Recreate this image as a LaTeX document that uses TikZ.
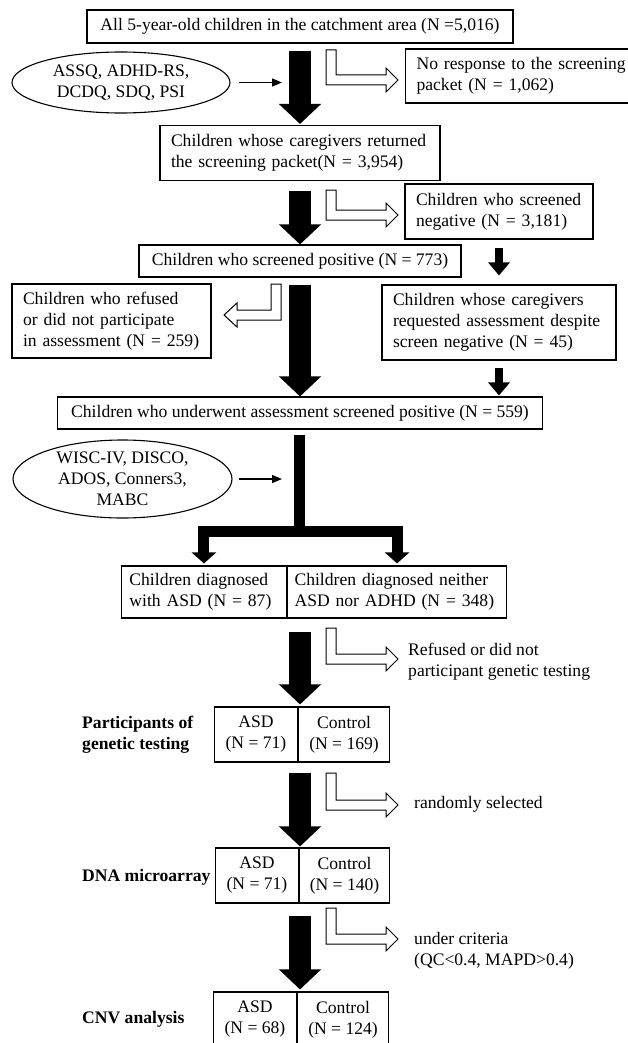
\documentclass[tikz,border=0pt]{standalone}
\usepackage{fontspec}
\setmainfont{Liberation Serif}
\usetikzlibrary{arrows.meta,shapes.geometric}

\begin{document}
\begin{tikzpicture}[x=1pt, y=-1pt,
    boxStyle/.style={draw, line width=1.1pt, inner xsep=11pt, inner ysep=0pt, align=left, font=\fontsize{17.6}{21}\selectfont},
    cellStyle/.style={draw, line width=1.1pt, inner sep=0pt, align=center, minimum height=55pt, font=\fontsize{17.6}{21}\selectfont},
    ellStyle/.style={ellipse, draw, line width=1.1pt, inner sep=0pt, align=center, font=\fontsize{17.6}{21}\selectfont},
    labelStyle/.style={anchor=west, inner sep=0pt, align=left, font=\fontsize{17.6}{21}\selectfont\bfseries},
    noteStyle/.style={anchor=west, inner sep=0pt, align=left, font=\fontsize{17.6}{21}\selectfont},
    bigArrow/.style={line width=22pt, -{Triangle[width=41pt, length=20pt]}},
    smallArrow/.style={line width=8pt, -{Triangle[width=21pt, length=13pt]}},
    forkArrow/.style={line width=11pt, -{Triangle[width=24pt, length=11pt]}},
    thinArrow/.style={line width=1.3pt, -{Triangle[width=8pt, length=10pt]}},
    hollow/.style={draw, line width=1pt, fill=white, line join=miter}]
    \useasboundingbox (0,0) rectangle (627,1043);
    \coordinate (spine) at (300,0);

    % screening
    \node[boxStyle, align=center, minimum width=426pt, minimum height=33pt] (all) at (300,26.5) {All 5-year-old children in the catchment area (N =5,016)};
    \node[ellStyle, minimum width=218pt, minimum height=61pt] (ell1) at (121,82.5) {ASSQ, ADHD-RS,\\DCDQ, SDQ, PSI};
    \node[boxStyle, text width=223pt, minimum height=54pt, anchor=west] (noresp) at (405,76) {No response to the screening\\packet (N = 1,062)};
    \node[boxStyle, text width=258pt, minimum height=55pt, anchor=north] (ret) at (300,125) {Children whose caregivers returned\\the screening packet(N = 3,954)};
    \node[boxStyle, text width=166pt, minimum height=55pt] (neg) at (499,211.5) {Children who screened\\negative (N = 3,181)};
    \node[boxStyle, align=center, minimum width=322pt, minimum height=32pt] (pos) at (300,261) {Children who screened positive (N = 773)};
    \node[boxStyle, text width=177pt, minimum height=74pt] (refused) at (111.5,321) {Children who refused\\or did not participate\\in assessment (N = 259)};
    \node[boxStyle, text width=212pt, minimum height=75pt] (req) at (499,322.5) {Children whose caregivers\\requested assessment despite\\screen negative (N = 45)};
    \node[boxStyle, align=center, minimum width=485pt, minimum height=32pt] (assess) at (300,413) {Children who underwent assessment screened positive (N = 559)};

    % diagnosis
    \node[ellStyle, minimum width=219pt, minimum height=78pt] (ell2) at (122.5,479) {WISC-IV, DISCO,\\ADOS, Conners3,\\MABC};
    \node[boxStyle, text width=149pt, inner xsep=8pt, minimum height=52pt, anchor=east] (asd) at (287,592) {Children diagnosed\\with ASD (N = 87)};
    \node[boxStyle, text width=205pt, inner xsep=7pt, minimum height=52pt, anchor=west] (nei) at (287,592) {Children diagnosed neither\\ASD nor ADHD (N = 348)};

    % genetic testing
    \node[labelStyle] (partLabel) at (82,734.5) {Participants of\\genetic testing};
    \node[cellStyle, minimum width=83pt, anchor=east] (partA) at (298,734.5) {ASD\\(N = 71)};
    \node[cellStyle, minimum width=91pt, anchor=west] (partC) at (298,734.5) {Control\\(N = 169)};
    \node[labelStyle] (dnaLabel) at (82,877) {DNA microarray};
    \node[cellStyle, minimum width=83pt, anchor=east] (dnaA) at (299,875.5) {ASD\\(N = 71)};
    \node[cellStyle, minimum width=90pt, anchor=west] (dnaC) at (299,875.5) {Control\\(N = 140)};
    \node[labelStyle] (cnvLabel) at (82,1019) {CNV analysis};
    \node[cellStyle, minimum width=83pt, anchor=east] (cnvA) at (297,1019.5) {ASD\\(N = 68)};
    \node[cellStyle, minimum width=91pt, anchor=west] (cnvC) at (297,1019.5) {Control\\(N = 124)};

    \node[noteStyle] (refNote) at (408,661.5) {Refused or did not\\participant genetic testing};
    \node[noteStyle] (randNote) at (414,804) {randomly selected};
    \node[noteStyle] (critNote) at (414,951) {under criteria\\(QC<0.4, MAPD>0.4)};

    % main black arrows
    \draw[bigArrow, shorten <=7pt, shorten >=1pt] (all.south) -- (ret.north);
    \draw[bigArrow, shorten <=10pt] (ret.south) -- (pos.north);
    \draw[bigArrow, shorten <=7pt] (pos.south) -- (assess.north);
    \draw[bigArrow, shorten <=13pt, shorten >=2pt] (spine |- asd.south) -- (spine |- partA.north);
    \draw[bigArrow, shorten <=10pt, shorten >=1pt] (spine |- partA.south) -- (spine |- dnaA.north);
    \draw[bigArrow, shorten <=12pt, shorten >=2pt] (spine |- dnaA.south) -- (spine |- cnvA.north);

    % right column
    \draw[smallArrow, shorten <=8pt, shorten >=9pt] (neg.south) -- (req.north);
    \draw[smallArrow, shorten <=7pt, shorten >=1pt] (req.south) -- (req.south |- assess.north);

    % instruments
    \coordinate (in1) at (282,82.5);
    \coordinate (in2) at (282,479);
    \draw[thinArrow, shorten <=8pt] (ell1.east) -- (in1);
    \draw[thinArrow, shorten <=6pt] (ell2.east) -- (in2);

    % fork to diagnoses
    \coordinate (fork) at (299,531);
    \draw[line width=11pt, shorten <=5pt] (assess.south -| fork) -- (fork);
    \draw[forkArrow, shorten >=2pt] (fork) -| (asd.north);
    \draw[forkArrow, shorten >=2pt] (fork) -| (nei.north);

    % hollow bent arrows
    \draw[hollow] (326,50) -- ++(10,0) -- ++(0,25) -- ++(50,0) -- ++(0,-7) -- ++(12,12) -- ++(-12,12) -- ++(0,-7) -- ++(-60,0) -- cycle;
    \draw[hollow] (326,190) -- ++(10,0) -- ++(0,20) -- ++(50,0) -- ++(0,-7) -- ++(12,12) -- ++(-12,12) -- ++(0,-7) -- ++(-60,0) -- cycle;
    \draw[hollow] (281,284) -- ++(-10,0) -- ++(0,26) -- ++(-34,0) -- ++(0,-7) -- ++(-13,12) -- ++(13,12) -- ++(0,-7) -- ++(44,0) -- cycle;
    \draw[hollow] (326,628) -- ++(10,0) -- ++(0,26) -- ++(50,0) -- ++(0,-7) -- ++(12,12) -- ++(-12,12) -- ++(0,-7) -- ++(-60,0) -- cycle;
    \draw[hollow] (326,773) -- ++(10,0) -- ++(0,27) -- ++(50,0) -- ++(0,-7) -- ++(12,12) -- ++(-12,12) -- ++(0,-7) -- ++(-60,0) -- cycle;
    \draw[hollow] (326,908) -- ++(10,0) -- ++(0,26) -- ++(50,0) -- ++(0,-7) -- ++(12,12) -- ++(-12,12) -- ++(0,-7) -- ++(-60,0) -- cycle;
\end{tikzpicture}
\end{document}
